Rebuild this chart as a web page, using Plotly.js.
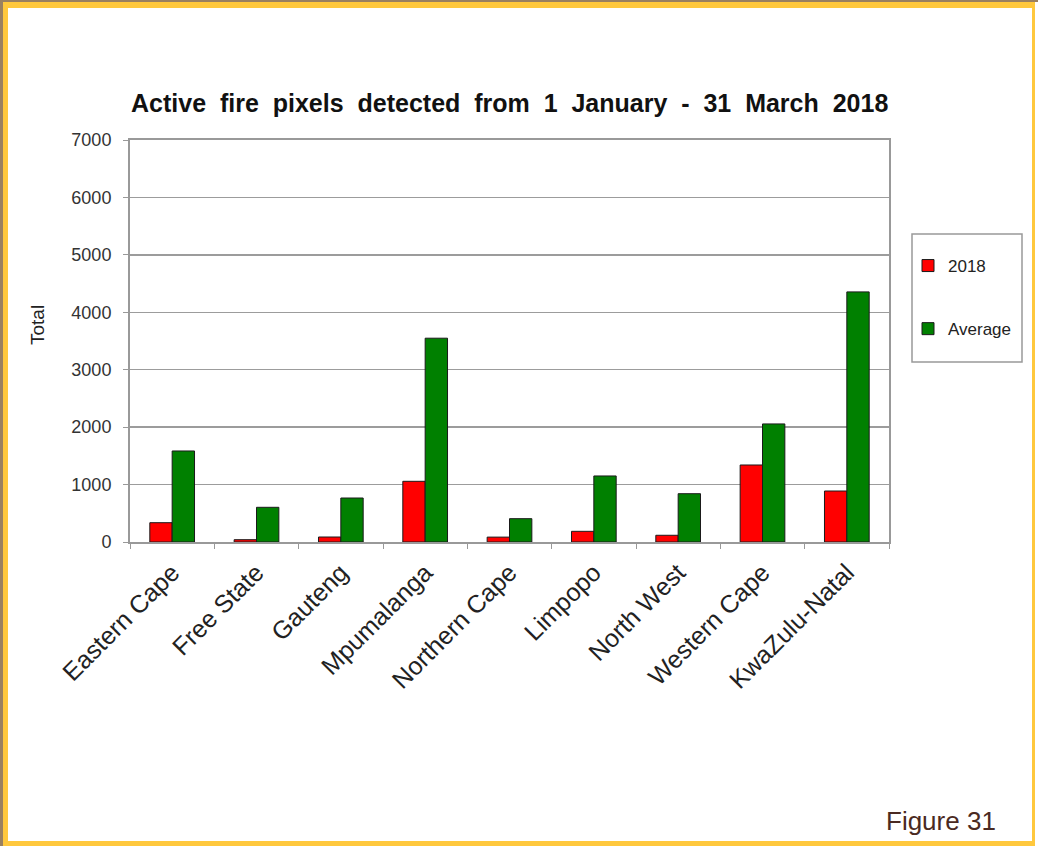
<!DOCTYPE html>
<html>
<head>
<meta charset="utf-8">
<script src="https://cdn.plot.ly/plotly-3.0.1.min.js"></script>
<style>
  html, body { margin: 0; padding: 0; background: #fff; }
  #wrap { position: relative; width: 1038px; height: 846px; overflow: hidden; }
  #chart { position: absolute; left: 0; top: 0; width: 1038px; height: 846px; }
  #frame { position: absolute; left: 3px; top: 2px; width: 1032px; height: 844px; box-sizing: border-box;
           border-style: solid; border-color: #FFC83D; border-width: 6px 3px 5px 5px; pointer-events: none; }
  #edge { position: absolute; left: 0; top: 0; width: 1038px; height: 846px; box-sizing: border-box;
          border-style: solid; border-color: #9a8060; border-width: 2px 0 0 3px; pointer-events: none; }
</style>
</head>
<body>
<div id="wrap">
  <div id="chart"></div>
  <div id="edge"></div>
  <div id="frame"></div>
</div>
<script>
const categories = ["Eastern Cape", "Free State", "Gauteng", "Mpumalanga", "Northern Cape",
                    "Limpopo", "North West", "Western Cape", "KwaZulu-Natal"];
const values2018 = [336, 40, 87, 1057, 85, 186, 117, 1341, 888];
const valuesAverage = [1585, 604, 766, 3549, 406, 1150, 841, 2056, 4355];
const yTicks = [0, 1000, 2000, 3000, 4000, 5000, 6000, 7000];

const traces = [
  { type: "bar", name: "2018", x: categories, y: values2018, legendgroup: "a",
    marker: { color: "#FF0000", line: { color: "#1a1a1a", width: 1 } } },
  { type: "bar", name: "Average", x: categories, y: valuesAverage, legendgroup: "b",
    marker: { color: "#008000", line: { color: "#1a1a1a", width: 1 } } }
];

const layout = {
  width: 1038, height: 846,
  paper_bgcolor: "#ffffff", plot_bgcolor: "#ffffff",
  margin: { l: 130, r: 149, t: 140, b: 304, pad: 0 },
  barmode: "group", bargap: 0.47, bargroupgap: 0,
  font: { family: "Arial, Liberation Sans, sans-serif", color: "#222" },
  title: { text: "Active  fire  pixels  detected  from  1  January  -  31  March  2018",
           font: { size: 25, color: "#111", family: "Arial, Liberation Sans, sans-serif", weight: "bold" },
           x: 0.491, xref: "container", xanchor: "center", y: 1 - 103/846, yref: "container", yanchor: "middle" },
  xaxis: { type: "category", tickangle: -45, tickson: "boundaries", ticks: "outside", ticklen: 5,
           tickcolor: "#999", showline: true, linecolor: "#999", linewidth: 2, mirror: true,
           tickfont: { size: 25, color: "#222" }, ticklabelstandoff: 4,
           showgrid: false, automargin: false, fixedrange: true },
  yaxis: { range: [0, 7000], tickvals: yTicks, ticktext: yTicks.map(String), ticks: "outside", ticklen: 5,
           tickcolor: "#999", showline: true, linecolor: "#999", linewidth: 2, mirror: true,
           showgrid: true, gridcolor: "#9c9c9c", gridwidth: 1.5, zeroline: false,
           tickfont: { size: 18, color: "#333" }, ticklabelstandoff: 8,
           automargin: false, fixedrange: true },
  showlegend: true,
  legend: { x: 908/1038, xref: "container", y: 1 - 248/846, yref: "container", xanchor: "left", yanchor: "top",
            bgcolor: "rgba(0,0,0,0)", borderwidth: 0, traceorder: "grouped", tracegroupgap: 38,
            font: { size: 17, color: "#222" }, itemwidth: 30 },
  shapes: [
    { type: "rect", xref: "paper", yref: "paper",
      x0: (912 - 130) / 759, x1: (1022 - 130) / 759, y0: (542 - 362) / 402, y1: (542 - 234) / 402,
      line: { color: "#999", width: 1.5 }, fillcolor: "rgba(0,0,0,0)" }
  ],
  annotations: [
    { text: "Total", xref: "paper", yref: "paper", x: (37 - 130) / 759, y: (542 - 325) / 402,
      xanchor: "center", yanchor: "middle", textangle: -90, showarrow: false,
      font: { size: 19, color: "#222" } },
    { text: "Figure 31", xref: "paper", yref: "paper", x: (998 - 130) / 759, y: (542 - 821) / 402,
      xanchor: "right", yanchor: "middle", showarrow: false,
      font: { size: 26, color: "#4a2a22", family: "Arial, Liberation Sans, sans-serif" } }
  ]
};

Plotly.newPlot("chart", traces, layout, { displayModeBar: false, staticPlot: true });
</script>
</body>
</html>
